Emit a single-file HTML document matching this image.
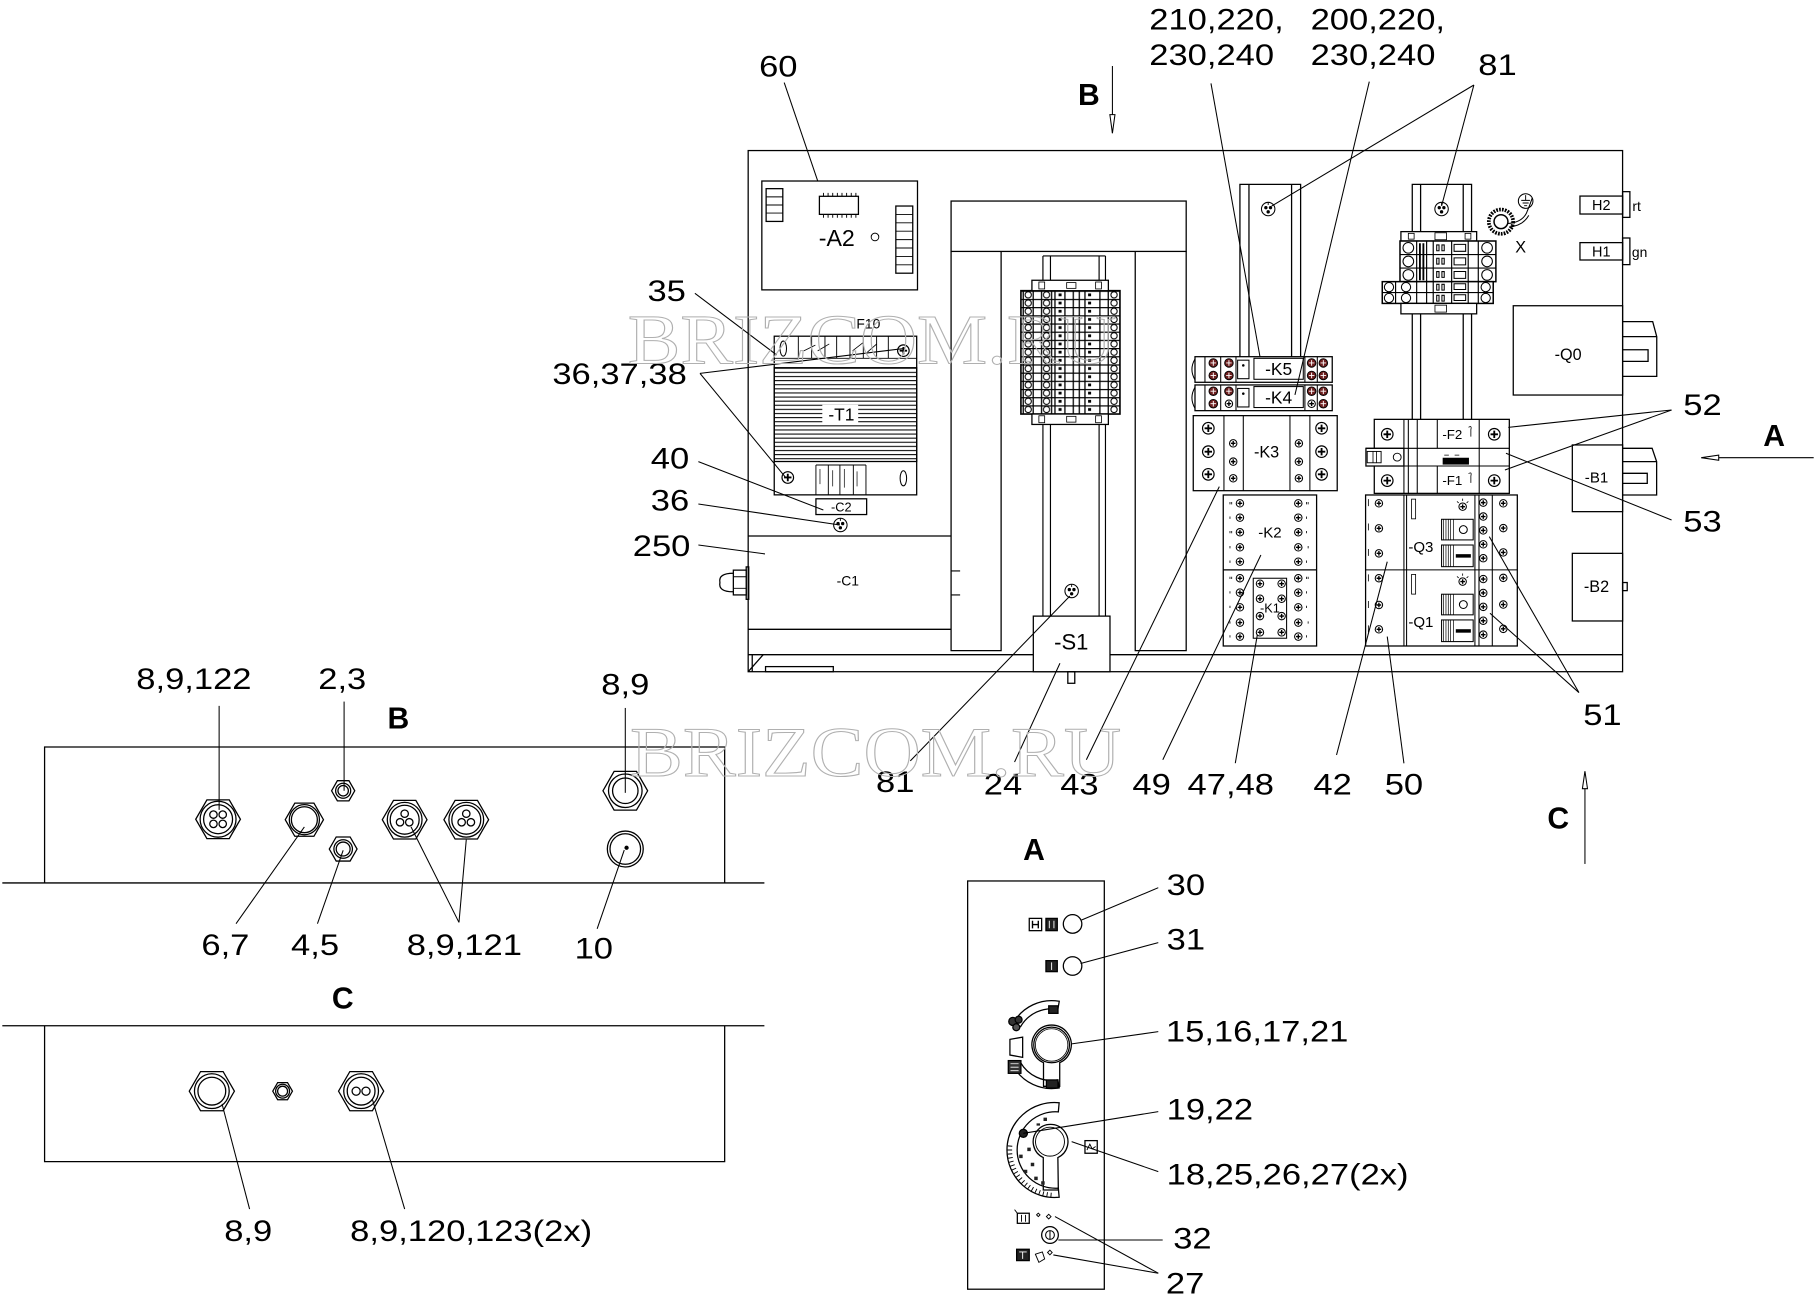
<!DOCTYPE html>
<html><head><meta charset="utf-8">
<style>
html,body{margin:0;padding:0;background:#fff;}
svg{display:block;}
text{font-family:"Liberation Sans",Arial,sans-serif;fill:#000;stroke:none;}
.n{font-size:25.5px;}
.b{font-size:26px;font-weight:bold;}
.wm{font-family:"Liberation Serif",serif;font-size:61px;fill:none;stroke:#b0b0b0;stroke-width:0.9;}
</style></head><body>
<svg width="1816" height="1306" viewBox="0 0 1568 1127.7" preserveAspectRatio="none" xmlns="http://www.w3.org/2000/svg">
<defs>
<pattern id="lam" patternUnits="userSpaceOnUse" x="0" y="317.5" width="10" height="3.55"><line x1="0" y1="0.5" x2="10" y2="0.5" stroke="#000" stroke-width="0.9"/></pattern>
<pattern id="tb" patternUnits="userSpaceOnUse" x="881.5" y="251" width="85.5" height="7.07">
<rect x="0" y="0" width="85.5" height="7.07" fill="#fff"/>
<path d="M0,0.45H85.5M2,0V7.07M10.6,0V7.07M17.8,0V7.07M26.5,0V7.07M29.4,0V7.07M38,0V7.07M45.2,0V7.07M50.4,0V7.07M55.3,0V7.07M68.2,0V7.07M75.4,0V7.07" stroke="#000" stroke-width="1.1" fill="none"/>
<circle cx="6.3" cy="3.6" r="2.7" fill="none" stroke="#000" stroke-width="0.9"/>
<circle cx="22.1" cy="3.6" r="2.7" fill="none" stroke="#000" stroke-width="0.9"/>
<circle cx="80.4" cy="3.6" r="2.7" fill="none" stroke="#000" stroke-width="0.9"/>
<rect x="32.5" y="2.4" width="2.6" height="2.4" fill="#000"/>
<rect x="58" y="2.4" width="2.6" height="2.4" fill="#000"/>
</pattern>
<g id="sc"><circle r="5" fill="#fff" stroke="#000" stroke-width="1"/><path d="M-3.2,0H3.2M0,-3.2V3.2" stroke="#000" stroke-width="1.6"/></g>
<g id="ss"><circle r="3.2" fill="#fff" stroke="#000" stroke-width="0.9"/><path d="M-2,0H2M0,-2V2" stroke="#000" stroke-width="1.2"/></g>
<g id="rs"><circle r="3.7" fill="#6e1f1f" stroke="#000" stroke-width="0.8"/><path d="M-2.4,0H2.4M0,-2.4V2.4" stroke="#fff" stroke-width="0.8"/></g>
<g id="rl"><circle r="5.8" fill="#fff" stroke="#000" stroke-width="0.9"/><circle cx="-2" cy="-1.2" r="0.9" fill="#000"/><circle cx="2" cy="-1.2" r="0.9" fill="#000"/><circle cx="0" cy="2.4" r="0.9" fill="#000"/><path d="M0,-5.8V-3.5" stroke="#000" stroke-width="0.8"/></g>
</defs>

<g fill="none" stroke="#000" stroke-width="1.1">
<!-- main box -->
<rect x="646" y="130" width="755" height="450"/>
<line x1="646" y1="565.3" x2="1401" y2="565.3"/>
<line x1="646" y1="580" x2="659" y2="565.3"/>
<line x1="649.5" y1="565.3" x2="649.5" y2="580"/>
<rect x="661" y="575.6" width="58.5" height="4.4"/>

<!-- A2 -->
<rect x="657.8" y="156.3" width="134.4" height="94"/>
<rect x="661.5" y="162.9" width="14.4" height="28.3"/>
<path d="M661.5,170H675.9M661.5,177H675.9M661.5,184H675.9" stroke-width="0.8"/>
<rect x="773.5" y="177.9" width="14.6" height="58"/>
<path d="M773.5,185.15H788.1M773.5,192.4H788.1M773.5,199.65H788.1M773.5,206.9H788.1M773.5,214.15H788.1M773.5,221.4H788.1M773.5,228.65H788.1" stroke-width="0.8"/>
<rect x="707.5" y="169.5" width="33.7" height="15.6"/>
<path d="M711,166.5V169.5M715,166.5V169.5M719,166.5V169.5M723,166.5V169.5M727,166.5V169.5M731,166.5V169.5M735,166.5V169.5M739,166.5V169.5M711,185.1V188M715,185.1V188M719,185.1V188M723,185.1V188M727,185.1V188M731,185.1V188M735,185.1V188M739,185.1V188" stroke-width="0.8"/>
<circle cx="755.5" cy="204.6" r="3.3" stroke-width="0.8"/>

<!-- T1 -->
<rect x="668.5" y="290.3" width="123" height="137"/>
<rect x="668.5" y="317.5" width="123" height="81" fill="url(#lam)"/>
<line x1="668.5" y1="309.4" x2="791.5" y2="309.4" stroke-width="0.8"/>
<path d="M689.3,290.3V309.4M700.8,290.3V309.4M712.3,290.3V309.4M722.4,290.3V309.4M733.9,290.3V309.4M745.4,290.3V309.4M756.9,290.3V309.4M767,290.3V309.4" stroke-width="0.8"/>
<path d="M694,303L704,298M706,303L716,297M736,303L745,296M749,304L757,297" stroke-width="0.7"/>
<ellipse cx="676.3" cy="301" rx="2.8" ry="6.5" stroke-width="0.9"/>
<use href="#sc" x="780" y="302.8"/>
<path d="M704.5,401.5V427.3M715.2,401.5V427.3M725.2,401.5V427.3M736.8,401.5V427.3M747.7,401.5V427.3M704.5,401.5H747.7" stroke-width="0.8"/>
<path d="M708,405V418M719,406V420M729,405V421M740,407V420" stroke-width="0.6"/>
<use href="#sc" x="680.2" y="412.3"/>
<ellipse cx="780" cy="413" rx="2.8" ry="6.5" stroke-width="0.9"/>
<rect x="710" y="349.5" width="31" height="16" fill="#fff" stroke="none"/>
<!-- C2 -->
<rect x="704.5" y="430.7" width="43.8" height="13.6"/>
<use href="#rl" x="725.6" y="453.3"/>

<!-- C1 -->
<line x1="646" y1="462.8" x2="821.2" y2="462.8"/>
<line x1="646" y1="543.4" x2="821.2" y2="543.4"/>
<path d="M821.2,493H829M821.2,513.7H829" stroke-width="0.9"/>
<rect x="644.3" y="489.5" width="2.2" height="28"/>
<rect x="633.2" y="492.3" width="11.1" height="21.4" fill="#fff"/>
<path d="M633.2,498H644.3M633.2,508H644.3" stroke-width="0.8"/>
<path d="M633.2,495Q620,495 621.6,503Q620,511 633.2,511"/>

<!-- tall frame -->
<rect x="821.2" y="173.6" width="203" height="43.5"/>
<path d="M821.2,217.1V561.8H864.4V217.1M980.2,217.1V561.8H1024.2V217.1"/>
<!-- rail middle -->
<path d="M900.5,221V532M907,221V532M949,221V532M954.5,221V532M900.5,221H954.5" stroke-width="1"/>
<rect x="881.5" y="251" width="85.5" height="106.5" fill="url(#tb)" stroke-width="1.4"/>
<rect x="891" y="242" width="66" height="9" fill="#fff"/>
<rect x="897" y="243.5" width="5" height="6" stroke-width="0.7"/>
<rect x="946" y="243.5" width="5" height="6" stroke-width="0.7"/>
<rect x="921" y="244" width="8" height="5" stroke-width="0.7"/>
<rect x="891" y="357.5" width="66" height="9" fill="#fff"/>
<rect x="897" y="359" width="5" height="6" stroke-width="0.7"/>
<rect x="946" y="359" width="5" height="6" stroke-width="0.7"/>
<rect x="921" y="359.5" width="8" height="5" stroke-width="0.7"/>
<use href="#rl" x="925.3" y="510.3"/>
<!-- S1 -->
<rect x="892.2" y="532" width="66.2" height="48" fill="#fff"/>
<rect x="922" y="580" width="6" height="10"/>

<!-- left rail K -->
<path d="M1070.6,308V159.2H1123V308M1078.4,159.2V308M1115.2,159.2V308"/>
<use href="#rl" x="1095" y="180.5"/>
<!-- right rail -->
<path d="M1219.4,362V159.2H1270.6V362M1226.6,159.2V362M1263.4,159.2V362"/>
<use href="#rl" x="1244.7" y="180.5"/>

<!-- right terminal block -->
<rect x="1209.6" y="200" width="65.4" height="8.1" fill="#fff"/>
<rect x="1216" y="201.5" width="5" height="5" stroke-width="0.7"/>
<rect x="1239" y="201" width="10" height="6" stroke-width="0.7"/>
<rect x="1265" y="201.5" width="5" height="5" stroke-width="0.7"/>
<rect x="1208.8" y="208.1" width="82.8" height="35.1" fill="#fff" stroke-width="1.3"/>
<rect x="1193.5" y="243.2" width="95.8" height="18.8" fill="#fff" stroke-width="1.3"/>
<rect x="1209.6" y="262" width="65.4" height="9" fill="#fff"/>
<rect x="1239" y="263.5" width="10" height="6" stroke-width="0.7"/>
<path d="M1208.8,219.8H1291.6M1208.8,231.5H1291.6M1193.5,252.6H1289.3M1205,243.2V262M1223.2,208.1V262M1231.8,208.1V262M1237.5,208.1V262M1253.4,208.1V262M1267.7,208.1V262M1276.4,208.1V262" stroke-width="1"/>
<g stroke-width="0.9">
<circle cx="1216" cy="214" r="4.6"/><circle cx="1216" cy="225.7" r="4.6"/><circle cx="1216" cy="237.4" r="4.6"/>
<circle cx="1284" cy="214" r="4.6"/><circle cx="1284" cy="225.7" r="4.6"/><circle cx="1284" cy="237.4" r="4.6"/>
<circle cx="1199.3" cy="247.9" r="4"/><circle cx="1199.3" cy="257.3" r="4"/>
<circle cx="1214" cy="247.9" r="4"/><circle cx="1214" cy="257.3" r="4"/>
<circle cx="1282.8" cy="247.9" r="4"/><circle cx="1282.8" cy="257.3" r="4"/>
<path d="M1240.5,211.5h2v5h-2zM1245,211.5h2v5h-2zM1240.5,223h2v5h-2zM1245,223h2v5h-2zM1240.5,234.5h2v5h-2zM1245,234.5h2v5h-2zM1240.5,245.5h2v5h-2zM1245,245.5h2v5h-2zM1240.5,255h2v5h-2zM1245,255h2v5h-2z"/>
<path d="M1255.5,211h10v6h-10zM1255.5,222.7h10v6h-10zM1255.5,234.4h10v6h-10zM1255.5,245h10v5h-10zM1255.5,254.5h10v5h-10z"/>
</g>
<path d="M1226,210V242M1229,210V242" stroke-width="1.6"/>
<!-- earth -->
<circle cx="1296" cy="191.4" r="10.5" stroke-width="3.2" stroke-dasharray="1.5 1"/>
<circle cx="1296" cy="191.4" r="6" stroke-width="1.3"/>
<path d="M1302,193Q1314,192 1318,184Q1321,177 1323,171M1303,196Q1315,195 1320,186" stroke-width="0.9"/>
<circle cx="1317.3" cy="173.6" r="6.3" stroke-width="0.9"/>
<path d="M1317.3,168.5V173M1313.5,173H1321M1314.7,175.3H1319.9M1316,177.6H1318.6" stroke-width="0.8"/>

<!-- H2 H1 -->
<rect x="1364.2" y="169.3" width="36.8" height="15.5"/>
<rect x="1401" y="165.5" width="6.3" height="22.2"/>
<rect x="1364.2" y="209.5" width="36.8" height="15"/>
<rect x="1401" y="205.5" width="6.3" height="23"/>
<!-- Q0 -->
<rect x="1306.6" y="264" width="94.4" height="77.1" fill="#fff"/>
<path d="M1401,277.7H1427L1430.5,290.7V325H1401M1401,290.7H1430.5M1401,302H1423V312H1401"/>

<!-- K5 K4 -->
<rect x="1031.8" y="308" width="118.5" height="22.1" fill="#fff"/>
<path d="M1031.8,310Q1026.5,319 1031.8,328M1040.4,308V330.1M1054,308V330.1M1067.2,308V330.1M1126.7,308V330.1M1137.4,308V330.1" stroke-width="0.9"/>
<rect x="1068.6" y="311" width="9.8" height="16" stroke-width="0.9"/>
<circle cx="1073.5" cy="315.5" r="1.1" fill="#000" stroke="none"/>
<rect x="1082.7" y="309.4" width="42.6" height="18.1" stroke-width="0.9"/>
<use href="#rs" x="1047.6" y="313.4"/><use href="#rs" x="1061.1" y="313.4"/><use href="#rs" x="1047.6" y="324.2"/><use href="#rs" x="1061.1" y="324.2"/>
<use href="#rs" x="1132.5" y="313.4"/><use href="#rs" x="1142.6" y="313.4"/><use href="#rs" x="1132.5" y="324.2"/><use href="#rs" x="1142.6" y="324.2"/>
<rect x="1031.8" y="332.4" width="118.5" height="22.2" fill="#fff"/>
<path d="M1031.8,334.4Q1026.5,343.5 1031.8,352.6M1040.4,332.4V354.6M1054,332.4V354.6M1067.2,332.4V354.6M1126.7,332.4V354.6M1137.4,332.4V354.6" stroke-width="0.9"/>
<rect x="1068.6" y="335.4" width="9.8" height="16" stroke-width="0.9"/>
<circle cx="1073.5" cy="339.9" r="1.1" fill="#000" stroke="none"/>
<rect x="1082.7" y="333.8" width="42.6" height="18.1" stroke-width="0.9"/>
<use href="#rs" x="1047.6" y="337.8"/><use href="#rs" x="1061.1" y="337.8"/><use href="#rs" x="1047.6" y="348.6"/><use href="#ss" x="1061.1" y="348.6"/>
<use href="#rs" x="1132.5" y="337.8"/><use href="#rs" x="1142.6" y="337.8"/><use href="#ss" x="1132.5" y="348.6"/><use href="#rs" x="1142.6" y="348.6"/>

<!-- K3 -->
<rect x="1030.3" y="358.9" width="124.3" height="64.8" fill="#fff"/>
<path d="M1056.8,358.9V423.7M1073.5,358.9V423.7M1113.8,358.9V423.7M1131,358.9V423.7" stroke-width="0.9"/>
<use href="#sc" x="1043.3" y="369.8"/><use href="#sc" x="1043.3" y="390"/><use href="#sc" x="1043.3" y="409.6"/>
<use href="#sc" x="1141.1" y="369.8"/><use href="#sc" x="1141.1" y="390"/><use href="#sc" x="1141.1" y="409.6"/>
<use href="#ss" x="1064.8" y="382.8"/><use href="#ss" x="1064.8" y="398.6"/><use href="#ss" x="1064.8" y="413"/>
<use href="#ss" x="1121.5" y="382.8"/><use href="#ss" x="1121.5" y="398.6"/><use href="#ss" x="1121.5" y="413"/>

<!-- K2 K1 -->
<rect x="1056.2" y="427.4" width="80.6" height="130.4" fill="#fff"/>
<line x1="1056.2" y1="492.1" x2="1136.8" y2="492.1"/>
<use href="#ss" x="1070.6" y="434.6"/><use href="#ss" x="1070.6" y="447"/><use href="#ss" x="1070.6" y="459.6"/><use href="#ss" x="1070.6" y="472.6"/><use href="#ss" x="1070.6" y="485"/>
<use href="#ss" x="1121" y="434.6"/><use href="#ss" x="1121" y="447"/><use href="#ss" x="1121" y="459.6"/><use href="#ss" x="1121" y="472.6"/><use href="#ss" x="1121" y="485"/>
<use href="#ss" x="1070.6" y="499.3"/><use href="#ss" x="1070.6" y="511.7"/><use href="#ss" x="1070.6" y="524.4"/><use href="#ss" x="1070.6" y="537.6"/><use href="#ss" x="1070.6" y="549.7"/>
<use href="#ss" x="1121" y="499.3"/><use href="#ss" x="1121" y="511.7"/><use href="#ss" x="1121" y="524.4"/><use href="#ss" x="1121" y="537.6"/><use href="#ss" x="1121" y="549.7"/>
<path d="M1062,433.5v2M1063.5,433.5v2M1062,446v2M1062,458.5v2M1063.5,458.5v2M1062,471.5v2M1062,484v2M1128,433.5v2M1129.5,433.5v2M1128,446v2M1128,458.5v2M1129.5,471.5v2M1128,484v2M1062,498v2M1063.5,498v2M1062,510.5v2M1062,523v2M1062,536.5v2M1062,548.5v2M1128,498v2M1129.5,498v2M1128,510.5v2M1128,523v2M1129.5,536.5v2M1128,548.5v2" stroke-width="0.7"/>
<rect x="1082.1" y="499.3" width="28.8" height="51.8" stroke-width="0.9"/>
<use href="#ss" x="1087.9" y="504"/><use href="#ss" x="1106.6" y="504"/><use href="#ss" x="1087.9" y="517"/><use href="#ss" x="1106.6" y="517"/><use href="#ss" x="1087.9" y="532"/><use href="#ss" x="1106.6" y="532"/><use href="#ss" x="1087.9" y="546"/><use href="#ss" x="1106.6" y="546"/>

<!-- F2 F1 -->
<rect x="1186.6" y="362.1" width="116.6" height="63.9" fill="#fff"/>
<rect x="1179.4" y="387.1" width="32.8" height="15.3" fill="#fff"/>
<path d="M1179.4,387.1H1303.2M1179.4,402.4H1303.2M1212.2,362.1V426M1216,362.1V426M1223.7,362.1V426M1241,362.1V387.1M1241,402.4V426M1277.2,362.1V426" stroke-width="0.9"/>
<rect x="1180.5" y="389.8" width="12" height="9.8" stroke-width="0.8"/>
<path d="M1185.5,389.8V399.6M1188.5,389.8V399.6" stroke-width="0.7"/>
<circle cx="1206.4" cy="394.7" r="3.4" stroke-width="0.8"/>
<use href="#sc" x="1197.8" y="375"/><use href="#sc" x="1197.8" y="415"/><use href="#sc" x="1290.2" y="375"/><use href="#sc" x="1290.2" y="415"/>
<rect x="1246.2" y="395.8" width="21.6" height="4.8" fill="#000"/>
<path d="M1247,393H1251M1256,393H1260M1268,369Q1271,367 1270,371V377M1268,409Q1271,407 1270,411V417" stroke-width="0.7"/>

<!-- Q3 Q1 -->
<rect x="1179.1" y="427.4" width="131" height="130.4" fill="#fff"/>
<path d="M1179.1,492.1H1310.1M1212.2,427.4V557.8M1214.5,427.4V557.8M1273.5,427.4V557.8M1277,427.4V557.8M1288.5,427.4V557.8" stroke-width="0.9"/>
<use href="#ss" x="1190.6" y="434.6"/><use href="#ss" x="1190.6" y="456.2"/><use href="#ss" x="1190.6" y="477.8"/>
<use href="#ss" x="1190.6" y="499.3"/><use href="#ss" x="1190.6" y="522.4"/><use href="#ss" x="1190.6" y="543.4"/>
<path d="M1181.5,431v6M1181.5,452v6M1181.5,474v6M1181.5,496v6M1181.5,519v6M1181.5,540v6" stroke-width="0.7"/>
<use href="#ss" x="1280.7" y="434"/><use href="#ss" x="1280.7" y="446"/><use href="#ss" x="1280.7" y="458"/><use href="#ss" x="1280.7" y="470"/><use href="#ss" x="1280.7" y="482"/>
<use href="#ss" x="1280.7" y="500"/><use href="#ss" x="1280.7" y="512"/><use href="#ss" x="1280.7" y="524"/><use href="#ss" x="1280.7" y="536"/><use href="#ss" x="1280.7" y="548"/>
<use href="#ss" x="1298" y="434.6"/><use href="#ss" x="1298" y="456"/><use href="#ss" x="1298" y="477"/>
<use href="#ss" x="1298" y="499"/><use href="#ss" x="1298" y="522"/><use href="#ss" x="1298" y="543"/>
<rect x="1218.8" y="431" width="3.5" height="17" stroke-width="0.7"/>
<rect x="1218.8" y="496" width="3.5" height="17" stroke-width="0.7"/>
<use href="#ss" x="1262.9" y="437.5"/><use href="#ss" x="1262.9" y="502.2"/>
<path d="M1262.9,430.5V432.5M1258,433L1259.5,434.3M1267.8,433L1266.3,434.3M1262.9,495.2V497.2M1258,497.7L1259.5,499M1267.8,497.7L1266.3,499" stroke-width="0.7"/>
<rect x="1244.7" y="448.4" width="27.3" height="17.8" stroke-width="0.9"/>
<rect x="1244.7" y="470.6" width="27.3" height="18.7" stroke-width="0.9"/>
<rect x="1244.7" y="513.1" width="27.3" height="17.8" stroke-width="0.9"/>
<rect x="1244.7" y="535.3" width="27.3" height="18.7" stroke-width="0.9"/>
<path d="M1246.5,448.4V466.2M1248.5,448.4V466.2M1250.5,448.4V466.2M1252.5,448.4V466.2M1255,448.4V466.2M1246.5,470.6V489.3M1248.5,470.6V489.3M1250.5,470.6V489.3M1252.5,470.6V489.3M1255,470.6V489.3M1246.5,513.1V530.9M1248.5,513.1V530.9M1250.5,513.1V530.9M1252.5,513.1V530.9M1255,513.1V530.9M1246.5,535.3V554M1248.5,535.3V554M1250.5,535.3V554M1252.5,535.3V554M1255,535.3V554" stroke-width="0.6"/>
<circle cx="1263.5" cy="457.3" r="3.4" stroke-width="0.9"/>
<circle cx="1263.5" cy="522" r="3.4" stroke-width="0.9"/>
<rect x="1257" y="478.5" width="13" height="3" fill="#000" stroke="none"/>
<rect x="1257" y="543.3" width="13" height="3" fill="#000" stroke="none"/>

<!-- B1 B2 -->
<rect x="1357.6" y="384.2" width="43.4" height="57.6" fill="#fff"/>
<path d="M1401,387.1H1426.5L1430.4,398.6V427.4H1401M1401,398.6H1430.4M1401,408.7H1422.3V417.4H1401"/>
<rect x="1357.6" y="477.8" width="43.4" height="58.4" fill="#fff"/>
<rect x="1401" y="503" width="4" height="7"/>
</g>

<!-- labels inside main -->
<g font-size="13">
<text x="722.5" y="212.4" font-size="20" text-anchor="middle">-A2</text>
<text x="749.8" y="283.5" font-size="12" text-anchor="middle">F10</text>
<text x="726.5" y="363" font-size="15" text-anchor="middle">-T1</text>
<text x="726.4" y="441.5" font-size="11" text-anchor="middle">-C2</text>
<text x="732" y="505.4" font-size="12" text-anchor="middle">-C1</text>
<text x="925" y="561" font-size="19" text-anchor="middle">-S1</text>
<text x="1104" y="324" font-size="15" text-anchor="middle">-K5</text>
<text x="1104" y="348.4" font-size="15" text-anchor="middle">-K4</text>
<text x="1093.6" y="395" font-size="14" text-anchor="middle">-K3</text>
<text x="1096.5" y="464" text-anchor="middle">-K2</text>
<text x="1096.5" y="529" font-size="11" text-anchor="middle" fill="#555">-K1</text>
<text x="1254" y="379" font-size="11.5" text-anchor="middle">-F2</text>
<text x="1254" y="419" font-size="11.5" text-anchor="middle">-F1</text>
<text x="1216" y="476.5">-Q3</text>
<text x="1216" y="541.5">-Q1</text>
<text x="1354" y="310.7" font-size="14" text-anchor="middle">-Q0</text>
<text x="1378.5" y="416.7" text-anchor="middle">-B1</text>
<text x="1378.5" y="511" font-size="14" text-anchor="middle">-B2</text>
<text x="1382.6" y="181.5" font-size="12.5" text-anchor="middle">H2</text>
<text x="1382.6" y="221.5" font-size="12.5" text-anchor="middle">H1</text>
<text x="1409.5" y="182" font-size="12">rt</text>
<text x="1409" y="222" font-size="12">gn</text>
<text x="1313" y="218" font-size="14" text-anchor="middle">X</text>
</g>

<!-- leaders -->
<g stroke="#000" stroke-width="0.9" fill="none">
<line x1="677.1" y1="71.3" x2="706" y2="156.1"/>
<line x1="1045.6" y1="72" x2="1087.9" y2="308"/>
<line x1="1182.3" y1="70.5" x2="1118.1" y2="341"/>
<line x1="1272.6" y1="73.4" x2="1098" y2="177.9"/>
<line x1="1272.6" y1="73.4" x2="1244.7" y2="177.9"/>
<line x1="600" y1="253.3" x2="670.6" y2="306.5"/>
<line x1="604.4" y1="322.4" x2="781.4" y2="300.8"/>
<line x1="604.4" y1="322.4" x2="677.8" y2="411.6"/>
<line x1="603" y1="398.6" x2="710.9" y2="440.4"/>
<line x1="603" y1="435.2" x2="725.2" y2="453.3"/>
<line x1="603" y1="470.6" x2="660.5" y2="478.3"/>
<line x1="786" y1="657" x2="923.8" y2="514.6"/>
<line x1="876" y1="658" x2="915.2" y2="572.7"/>
<line x1="938" y1="656" x2="1052.8" y2="420.2"/>
<line x1="1004" y1="656" x2="1088.7" y2="479.2"/>
<line x1="1066.6" y1="659" x2="1085.6" y2="548.3"/>
<line x1="1154" y1="651.9" x2="1197.8" y2="485"/>
<line x1="1212.2" y1="659.1" x2="1197.8" y2="549.7"/>
<line x1="1363.3" y1="598" x2="1285.9" y2="463.4"/>
<line x1="1363.3" y1="598" x2="1286.5" y2="529.5"/>
<line x1="1443.3" y1="354" x2="1302.3" y2="369"/>
<line x1="1443.3" y1="354" x2="1299.4" y2="405.8"/>
<line x1="1443.3" y1="449" x2="1300.3" y2="391.4"/>
<!-- arrows -->
<line x1="960.5" y1="57" x2="960.5" y2="115"/>
<polygon points="958.3,99 962.7,99 960.5,115" fill="#fff"/>
<line x1="1469" y1="395.2" x2="1566" y2="395.2"/>
<polygon points="1469,395.2 1484,393 1484,397.4" fill="#fff"/>
<line x1="1368.5" y1="666" x2="1368.5" y2="746"/>
<polygon points="1368.5,666 1366.3,681 1370.7,681" fill="#fff"/>
</g>

<!-- main labels -->
<text class="n" text-anchor="middle" transform="translate(672 66) scale(1.17 1)">60</text>
<text class="n" transform="translate(992.3 25.3) scale(1.17 1)">210,220,</text>
<text class="n" transform="translate(992.3 56.1) scale(1.17 1)">230,240</text>
<text class="n" transform="translate(1131.6 25.3) scale(1.17 1)">200,220,</text>
<text class="n" transform="translate(1131.6 56.1) scale(1.17 1)">230,240</text>
<text class="n" transform="translate(1276.4 64.8) scale(1.17 1)">81</text>
<text class="b" x="940.2" y="90.6" text-anchor="middle">B</text>
<text class="n" text-anchor="middle" transform="translate(575.6 260) scale(1.17 1)">35</text>
<text class="n" text-anchor="end" transform="translate(593 331.5) scale(1.17 1)">36,37,38</text>
<text class="n" text-anchor="middle" transform="translate(578.5 404.4) scale(1.17 1)">40</text>
<text class="n" text-anchor="middle" transform="translate(578.5 440.9) scale(1.17 1)">36</text>
<text class="n" text-anchor="middle" transform="translate(571.2 480.1) scale(1.17 1)">250</text>
<text class="n" transform="translate(1453.4 358.4) scale(1.17 1)">52</text>
<text class="b" x="1531.8" y="385.1" text-anchor="middle">A</text>
<text class="n" transform="translate(1453.4 459.1) scale(1.17 1)">53</text>
<text class="n" transform="translate(1367 626) scale(1.17 1)">51</text>
<text class="n" text-anchor="middle" transform="translate(773 684) scale(1.17 1)">81</text>
<text class="n" text-anchor="middle" transform="translate(866 686) scale(1.17 1)">24</text>
<text class="n" text-anchor="middle" transform="translate(932 686) scale(1.17 1)">43</text>
<text class="n" text-anchor="middle" transform="translate(994.3 686) scale(1.17 1)">49</text>
<text class="n" text-anchor="middle" transform="translate(1062.7 686) scale(1.17 1)">47,48</text>
<text class="n" text-anchor="middle" transform="translate(1150.6 686) scale(1.17 1)">42</text>
<text class="n" text-anchor="middle" transform="translate(1212.2 686) scale(1.17 1)">50</text>
<text class="b" x="1345.5" y="715.5" text-anchor="middle">C</text>

<!-- B and C panels -->
<g fill="none" stroke="#000" stroke-width="1.1">
<path d="M38.5,762.4V645H625.7V762.4"/>
<line x1="2" y1="762.4" x2="660" y2="762.4"/>
<line x1="2" y1="885.7" x2="660" y2="885.7"/>
<path d="M38.5,885.7V1003H625.7V885.7"/>
<!-- glands B -->
<polygon points="169,707.4 178.65,690.7 197.95,690.7 207.6,707.4 197.95,724.1 178.65,724.1"/>
<circle cx="188.3" cy="707.4" r="15.5"/><circle cx="188.3" cy="707.4" r="12.5"/>
<circle cx="184.3" cy="703.4" r="3.2"/><circle cx="192.3" cy="703.4" r="3.2"/><circle cx="184.3" cy="711.4" r="3.2"/><circle cx="192.3" cy="711.4" r="3.2"/>
<polygon points="246.3,707.8 254.55,693.5 271.05,693.5 279.3,707.8 271.05,722.1 254.55,722.1"/>
<circle cx="262.8" cy="707.8" r="13"/><circle cx="262.8" cy="707.8" r="11.2"/>
<polygon points="286.3,682.8 291.3,674.1 301.3,674.1 306.3,682.8 301.3,691.5 291.3,691.5"/>
<circle cx="296.3" cy="682.8" r="6.5"/><circle cx="296.3" cy="682.8" r="4.5"/>
<polygon points="284.3,733.1 290.3,722.7 302.3,722.7 308.3,733.1 302.3,743.5 290.3,743.5"/>
<circle cx="296.3" cy="733.1" r="8"/><circle cx="296.3" cy="733.1" r="6"/>
<polygon points="330.1,707.8 339.75,691.1 359.05,691.1 368.7,707.8 359.05,724.5 339.75,724.5"/>
<circle cx="349.4" cy="707.8" r="15"/><circle cx="349.4" cy="707.8" r="12.5"/>
<circle cx="349.4" cy="702.6" r="3.2"/><circle cx="345.4" cy="710" r="3.2"/><circle cx="353.4" cy="710" r="3.2"/>
<polygon points="383.3,707.8 392.95,691.1 412.25,691.1 421.9,707.8 412.25,724.5 392.95,724.5"/>
<circle cx="402.6" cy="707.8" r="15"/><circle cx="402.6" cy="707.8" r="12.5"/>
<circle cx="402.6" cy="702.6" r="3.2"/><circle cx="398.6" cy="710" r="3.2"/><circle cx="406.6" cy="710" r="3.2"/>
<polygon points="520.6,682.8 530.25,666.1 549.55,666.1 559.2,682.8 549.55,699.5 530.25,699.5"/>
<circle cx="539.9" cy="682.8" r="14.5"/><circle cx="539.9" cy="682.8" r="11"/>
<circle cx="539.9" cy="733.1" r="15.5"/><circle cx="539.9" cy="733.1" r="13.2"/>
<circle cx="541" cy="732" r="1.3" fill="#000"/>
<!-- glands C -->
<polygon points="163.4,942.2 173.15,925.3 192.65,925.3 202.4,942.2 192.65,959.1 173.15,959.1"/>
<circle cx="182.9" cy="942.2" r="15"/><circle cx="182.9" cy="942.2" r="12"/>
<polygon points="235.5,942.2 239.75,934.8 248.25,934.8 252.5,942.2 248.25,949.6 239.75,949.6"/>
<circle cx="244" cy="942.2" r="6"/><circle cx="244" cy="942.2" r="4.3"/>
<polygon points="292.3,942.2 302.05,925.3 321.55,925.3 331.3,942.2 321.55,959.1 302.05,959.1"/>
<circle cx="311.8" cy="942.2" r="15"/><circle cx="311.8" cy="942.2" r="12"/>
<circle cx="307.5" cy="942.2" r="3.5"/><circle cx="316" cy="942.2" r="3.5"/>
</g>
<g stroke="#000" stroke-width="0.9" fill="none">
<line x1="189.2" y1="609.5" x2="189.2" y2="699.3"/>
<line x1="297.1" y1="605.8" x2="297.1" y2="682.8"/>
<line x1="539.9" y1="611.3" x2="539.9" y2="684.6"/>
<line x1="203.8" y1="797.6" x2="262.8" y2="714"/>
<line x1="274.1" y1="797.6" x2="296.3" y2="734.2"/>
<line x1="396.3" y1="796.5" x2="354.9" y2="714"/>
<line x1="396.3" y1="796.5" x2="402.6" y2="725"/>
<line x1="515.6" y1="802" x2="539" y2="734"/>
<line x1="215.5" y1="1044" x2="191.7" y2="953.2"/>
<line x1="349.4" y1="1044" x2="321.4" y2="948.8"/>
</g>
<text class="n" text-anchor="middle" transform="translate(167.4 594.8) scale(1.17 1)">8,9,122</text>
<text class="n" text-anchor="middle" transform="translate(295.5 594.8) scale(1.17 1)">2,3</text>
<text class="b" x="344" y="628.9" text-anchor="middle">B</text>
<text class="n" text-anchor="middle" transform="translate(539.9 599.5) scale(1.17 1)">8,9</text>
<text class="n" text-anchor="middle" transform="translate(194.6 824.8) scale(1.17 1)">6,7</text>
<text class="n" text-anchor="middle" transform="translate(272 824.8) scale(1.17 1)">4,5</text>
<text class="n" text-anchor="middle" transform="translate(400.9 824.8) scale(1.17 1)">8,9,121</text>
<text class="n" text-anchor="middle" transform="translate(512.7 827.7) scale(1.17 1)">10</text>
<text class="b" x="295.9" y="871" text-anchor="middle">C</text>
<text class="n" text-anchor="middle" transform="translate(214.3 1071.6) scale(1.17 1)">8,9</text>
<text class="n" text-anchor="middle" transform="translate(406.8 1071.6) scale(1.17 1)">8,9,120,123(2x)</text>

<!-- A panel -->
<g fill="none" stroke="#000" stroke-width="1.1">
<rect x="835.5" y="760.7" width="118" height="352.5"/>
<circle cx="926.1" cy="797.8" r="8"/>
<rect x="888.7" y="793" width="10.7" height="10.6"/>
<path d="M891.5,795V801.6M896.5,795V801.6M891.5,798.3H896.5" stroke-width="1.2"/>
<rect x="903.1" y="793" width="9.8" height="10.6" fill="#222"/>
<path d="M906,795V801.5M910,795V801.5" stroke="#fff" stroke-width="0.8"/>
<circle cx="926.1" cy="834.1" r="8"/>
<rect x="903.1" y="829.5" width="9.8" height="9.5" fill="#222"/>
<path d="M908,831V837.5" stroke="#fff" stroke-width="0.8"/>
<!-- dial 1 -->
<path d="M875.1,883A38,38 0 0 1 914.6,864.6L913.4,871.5A31,31 0 0 0 881.2,886.5Z"/>
<path d="M875.1,921A38,38 0 0 0 914.6,939.4L913.4,932.5A31,31 0 0 1 881.2,917.5Z"/>
<path d="M901,917.6A17,17 0 1 1 915,917.6L915,938L901,938Z"/>
<circle cx="908" cy="902.3" r="15.4"/>
<circle cx="908" cy="902.3" r="14" stroke-width="0.7"/>
<circle cx="874.5" cy="882" r="3.5" fill="#333"/><circle cx="879.5" cy="880.5" r="3" fill="#333"/><circle cx="877.5" cy="887" r="3" fill="#555"/>
<path d="M872,897.5L883,895.5V913L872,911Z"/>
<rect x="870.6" y="915.8" width="10.9" height="11" fill="#333"/>
<path d="M872.5,918.5H879.5M872.5,921.5H879.5M872.5,924.5H879.5" stroke="#fff" stroke-width="0.7"/>
<rect x="905.5" y="868.5" width="8" height="6.5" fill="#222"/>
<rect x="903.5" y="932.5" width="10" height="7" fill="#222"/>
<!-- dial 2 -->
<path d="M914.5,952.2A41,41 0 1 0 914.5,1033.8L913.8,1025.9A33,33 0 1 1 913.8,960.1Z"/>
<path d="M907.33,1033.84L907.68,1029.86M903.78,1033.38L904.48,1029.44M900.29,1032.6L901.32,1028.74M896.88,1031.53L898.25,1027.77M893.57,1030.16L895.26,1026.53M890.4,1028.51L892.4,1025.04M887.38,1026.59L889.68,1023.31M884.55,1024.41L887.12,1021.34M881.91,1021.99L884.74,1019.16M879.49,1019.35L882.56,1016.78M877.31,1016.52L880.59,1014.22M875.39,1013.5L878.86,1011.5M873.74,1010.33L877.37,1008.64M872.37,1007.02L876.13,1005.65M871.3,1003.61L875.16,1002.58M870.52,1000.12L874.46,999.42M870.06,996.58L874.04,996.23M869.9,993L873.9,993M870.06,989.42L874.04,989.77" stroke-width="0.8"/>
<path d="M900.8,999.5A15,15 0 1 1 913.4,999.5L913.8,1027.5L900.8,1027.5Z"/>
<circle cx="906.6" cy="985.8" r="12.5" stroke-width="0.8"/>
<circle cx="883.6" cy="978.6" r="3.5" fill="#222"/>
<path d="M890,1004h3v3h-3zM884,1010h3v3h-3zM893,1016h3v3h-3zM899,1020h3v3h-3zM880,997h3v3h-3zM887,991h3v3h-3zM901,965h3v3h-3zM895,970h3v2h-3z" fill="#222" stroke="none"/>
<rect x="936.8" y="984.9" width="10.6" height="10.9"/>
<path d="M938.5,993L941,988L943,992L946,990" stroke-width="0.8"/>
<!-- 32 and 27 -->
<circle cx="906.6" cy="1066.4" r="7.2"/>
<circle cx="906.6" cy="1066.4" r="3.8" stroke-width="0.9"/>
<path d="M906.6,1062.6V1070.2" stroke-width="0.9"/>
<rect x="878.4" y="1047.6" width="10.3" height="8.7"/>
<path d="M876,1044.5L878.4,1047.6M882,1049V1055M885.5,1049V1055" stroke-width="0.8"/>
<path d="M895,1049l1.5,-1.5l1.5,1.5l-1.5,1.5z" stroke-width="0.8"/>
<path d="M903.5,1050.5l2,-2l2,2l-2,2z" stroke-width="0.8"/>
<rect x="877.8" y="1078.7" width="10.9" height="9.8" fill="#222"/>
<path d="M880,1081H886.5M883,1081V1087" stroke="#fff" stroke-width="0.8"/>
<path d="M894,1083L900,1081L902,1087L897,1090Z" stroke-width="0.8"/>
<path d="M904.5,1081.5l2,-2l2,2l-2,2z" stroke-width="0.8"/>
</g>
<g stroke="#000" stroke-width="0.9" fill="none">
<line x1="1000.1" y1="766.5" x2="933.9" y2="794.4"/>
<line x1="1000.1" y1="813.9" x2="933" y2="832"/>
<line x1="1000.1" y1="890.8" x2="925.3" y2="901.4"/>
<line x1="1000.1" y1="959.9" x2="883.6" y2="978.6"/>
<line x1="1000.1" y1="1011.7" x2="925.3" y2="985.8"/>
<line x1="1003.9" y1="1070.7" x2="913.8" y2="1070.7"/>
<line x1="1000.1" y1="1099.4" x2="910.9" y2="1050.5"/>
<line x1="1000.1" y1="1099.4" x2="909.5" y2="1083.6"/>
</g>
<text class="b" x="892.8" y="742.6" text-anchor="middle">A</text>
<text class="n" transform="translate(1007.3 772.8) scale(1.17 1)">30</text>
<text class="n" transform="translate(1007.3 819.7) scale(1.17 1)">31</text>
<text class="n" transform="translate(1006.7 899.4) scale(1.17 1)">15,16,17,21</text>
<text class="n" transform="translate(1007.3 966.5) scale(1.17 1)">19,22</text>
<text class="n" transform="translate(1007.3 1022.6) scale(1.17 1)">18,25,26,27(2x)</text>
<text class="n" transform="translate(1013 1077.9) scale(1.17 1)">32</text>
<text class="n" transform="translate(1006.7 1116.7) scale(1.17 1)">27</text>

<!-- watermarks on top -->
<text class="wm" x="542" y="314" textLength="422" lengthAdjust="spacingAndGlyphs">BRIZCOM.RU</text>
<text class="wm" x="544" y="670" textLength="424" lengthAdjust="spacingAndGlyphs">BRIZCOM.RU</text>
</svg>
</body></html>
